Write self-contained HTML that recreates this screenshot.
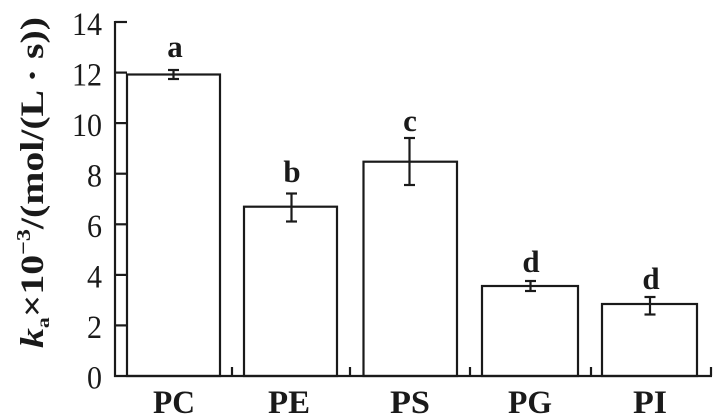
<!DOCTYPE html>
<html><head><meta charset="utf-8"><style>
html,body{margin:0;padding:0;background:#fff;}
svg{display:block;}
text{font-family:"Liberation Serif","DejaVu Serif",serif;fill:#1a1a1a;}
</style></head><body>
<svg width="717" height="419" viewBox="0 0 717 419" xmlns="http://www.w3.org/2000/svg">
<g stroke="#1a1a1a" stroke-width="2.2" fill="none">
  <!-- axes -->
  <line x1="115" y1="21" x2="115" y2="377"/>
  <line x1="114" y1="376" x2="712" y2="376"/>
  <!-- y ticks -->
  <line x1="115" y1="22" x2="127" y2="22"/>
  <line x1="115" y1="72.6" x2="127" y2="72.6"/>
  <line x1="115" y1="123.1" x2="127" y2="123.1"/>
  <line x1="115" y1="173.7" x2="127" y2="173.7"/>
  <line x1="115" y1="224.3" x2="127" y2="224.3"/>
  <line x1="115" y1="274.9" x2="127" y2="274.9"/>
  <line x1="115" y1="325.4" x2="127" y2="325.4"/>
  <!-- x ticks -->
  <line x1="232" y1="376" x2="232" y2="367"/>
  <line x1="350" y1="376" x2="350" y2="367"/>
  <line x1="470" y1="376" x2="470" y2="367"/>
  <line x1="591" y1="376" x2="591" y2="367"/>
  <line x1="711" y1="376" x2="711" y2="367"/>
  <!-- bars -->
  <rect x="127" y="74.5" width="93" height="301.5"/>
  <rect x="244" y="206.7" width="93" height="169.3"/>
  <rect x="363.5" y="161.7" width="93.5" height="214.3"/>
  <rect x="482" y="286" width="96" height="90"/>
  <rect x="602" y="304" width="95" height="72"/>
  <!-- error bars -->
  <line x1="173.5" y1="70" x2="173.5" y2="79"/>
  <line x1="168" y1="70" x2="179" y2="70"/>
  <line x1="168" y1="79" x2="179" y2="79"/>
  <line x1="291.5" y1="193.5" x2="291.5" y2="221.5"/>
  <line x1="286" y1="193.5" x2="297" y2="193.5"/>
  <line x1="286" y1="221.5" x2="297" y2="221.5"/>
  <line x1="409.5" y1="138" x2="409.5" y2="185"/>
  <line x1="404" y1="138" x2="415" y2="138"/>
  <line x1="404" y1="185" x2="415" y2="185"/>
  <line x1="530.5" y1="281" x2="530.5" y2="291"/>
  <line x1="525" y1="281" x2="536" y2="281"/>
  <line x1="525" y1="291" x2="536" y2="291"/>
  <line x1="650" y1="297" x2="650" y2="314.5"/>
  <line x1="644.5" y1="297" x2="655.5" y2="297"/>
  <line x1="644.5" y1="314.5" x2="655.5" y2="314.5"/>
</g>
<!-- y tick labels -->
<g font-size="33" text-anchor="end">
  <text x="102" y="35" textLength="30" lengthAdjust="spacingAndGlyphs">14</text>
  <text x="102" y="85.3" textLength="30" lengthAdjust="spacingAndGlyphs">12</text>
  <text x="102" y="135.8" textLength="30" lengthAdjust="spacingAndGlyphs">10</text>
  <text x="102" y="186.4" textLength="15" lengthAdjust="spacingAndGlyphs">8</text>
  <text x="102" y="237" textLength="15" lengthAdjust="spacingAndGlyphs">6</text>
  <text x="102" y="287.6" textLength="15" lengthAdjust="spacingAndGlyphs">4</text>
  <text x="102" y="338.1" textLength="15" lengthAdjust="spacingAndGlyphs">2</text>
  <text x="102" y="388.7" textLength="15" lengthAdjust="spacingAndGlyphs">0</text>
</g>
<!-- category labels -->
<g font-size="33" font-weight="bold" text-anchor="middle">
  <text x="174" y="413" textLength="42" lengthAdjust="spacingAndGlyphs">PC</text>
  <text x="289" y="413" textLength="42" lengthAdjust="spacingAndGlyphs">PE</text>
  <text x="410" y="413" textLength="40" lengthAdjust="spacingAndGlyphs">PS</text>
  <text x="530" y="413" textLength="44" lengthAdjust="spacingAndGlyphs">PG</text>
  <text x="650" y="413" textLength="34" lengthAdjust="spacingAndGlyphs">PI</text>
</g>
<!-- significance letters -->
<g font-size="31" font-weight="bold" text-anchor="middle">
  <text x="175" y="57">a</text>
  <text x="292" y="182">b</text>
  <text x="410" y="131">c</text>
  <text x="531" y="272">d</text>
  <text x="651" y="289">d</text>
</g>
<!-- y axis title -->
<text transform="translate(43,348) rotate(-90)" font-size="33" font-weight="bold" textLength="331" lengthAdjust="spacingAndGlyphs"><tspan font-style="italic">k</tspan><tspan font-size="18" dy="6">a</tspan><tspan dy="-6">×10</tspan><tspan font-size="20" dy="-13">−3</tspan><tspan dy="13">/(mol/(L · s))</tspan></text>
</svg>
</body></html>
